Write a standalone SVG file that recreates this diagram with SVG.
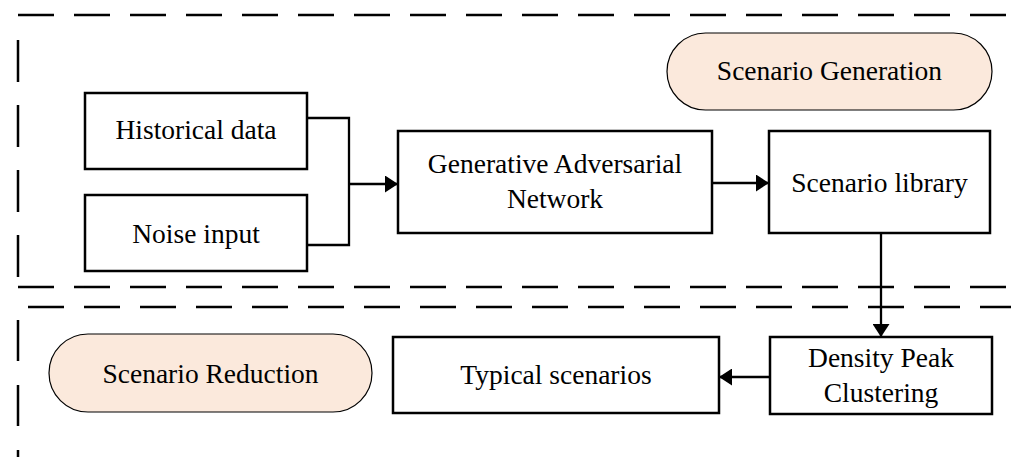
<svg xmlns="http://www.w3.org/2000/svg" width="1011" height="457" viewBox="0 0 1011 457">
<style>
.frame{fill:none;stroke:#000;stroke-width:2.5}
.dh{stroke-dasharray:36 20}
.box{fill:#fff;stroke:#000;stroke-width:2.5}
.pill{fill:#FBE9DC;stroke:#000;stroke-width:1.2}
.t{font-family:"Liberation Serif","Times New Roman",serif;font-size:27.5px;fill:#000;text-anchor:middle}
.c{fill:none;stroke:#000;stroke-width:2.3}
</style>
<defs>
<marker id="ah" viewBox="0 0 13 17" refX="13" refY="8.5" markerWidth="13" markerHeight="17" markerUnits="userSpaceOnUse" orient="auto">
<path d="M0,0 L13,8.5 L0,17 z" fill="#000"/>
</marker>
</defs>
<g id="frames">
<line class="frame dh" x1="18" y1="15" x2="1011" y2="15"/>
<line class="frame" x1="18" y1="40" x2="18" y2="277" stroke-dasharray="42 23"/>
<line class="frame dh" x1="18" y1="287" x2="1011" y2="287"/>
<line class="frame dh" x1="28" y1="307" x2="1011" y2="307"/>
<line class="frame" x1="18" y1="320" x2="18" y2="457" stroke-dasharray="41 24"/>
</g>
<g id="connectors">
<path class="c" d="M307,118 H349 V245 H307"/>
<path class="c" d="M349,184 H398" marker-end="url(#ah)"/>
<path class="c" d="M712,183 H769" marker-end="url(#ah)"/>
<path class="c" d="M881,233 V337" marker-end="url(#ah)"/>
<path class="c" d="M770,377 H719" marker-end="url(#ah)"/>
</g>
<g id="scenario-generation">
<rect class="pill" x="667" y="33" width="325" height="77" rx="38.5"/>
<text class="t" x="829.5" y="80">Scenario Generation</text>
</g>
<g id="historical-data">
<rect class="box" x="85" y="93" width="222" height="76"/>
<text class="t" x="196" y="139">Historical data</text>
</g>
<g id="noise-input">
<rect class="box" x="85" y="195" width="222" height="76"/>
<text class="t" x="196" y="243">Noise input</text>
</g>
<g id="gan">
<rect class="box" x="398" y="131" width="314" height="102"/>
<text class="t" x="555" y="173">Generative Adversarial</text>
<text class="t" x="555" y="208">Network</text>
</g>
<g id="scenario-library">
<rect class="box" x="769" y="131" width="221" height="102"/>
<text class="t" x="879.5" y="192">Scenario library</text>
</g>
<g id="density-peak-clustering">
<rect class="box" x="770" y="337" width="222" height="77"/>
<text class="t" x="881" y="367">Density Peak</text>
<text class="t" x="881" y="402">Clustering</text>
</g>
<g id="typical-scenarios">
<rect class="box" x="393" y="337" width="326" height="76"/>
<text class="t" x="556" y="384">Typical scenarios</text>
</g>
<g id="scenario-reduction">
<rect class="pill" x="49" y="334" width="323" height="78" rx="39"/>
<text class="t" x="210.5" y="383">Scenario Reduction</text>
</g>
</svg>
